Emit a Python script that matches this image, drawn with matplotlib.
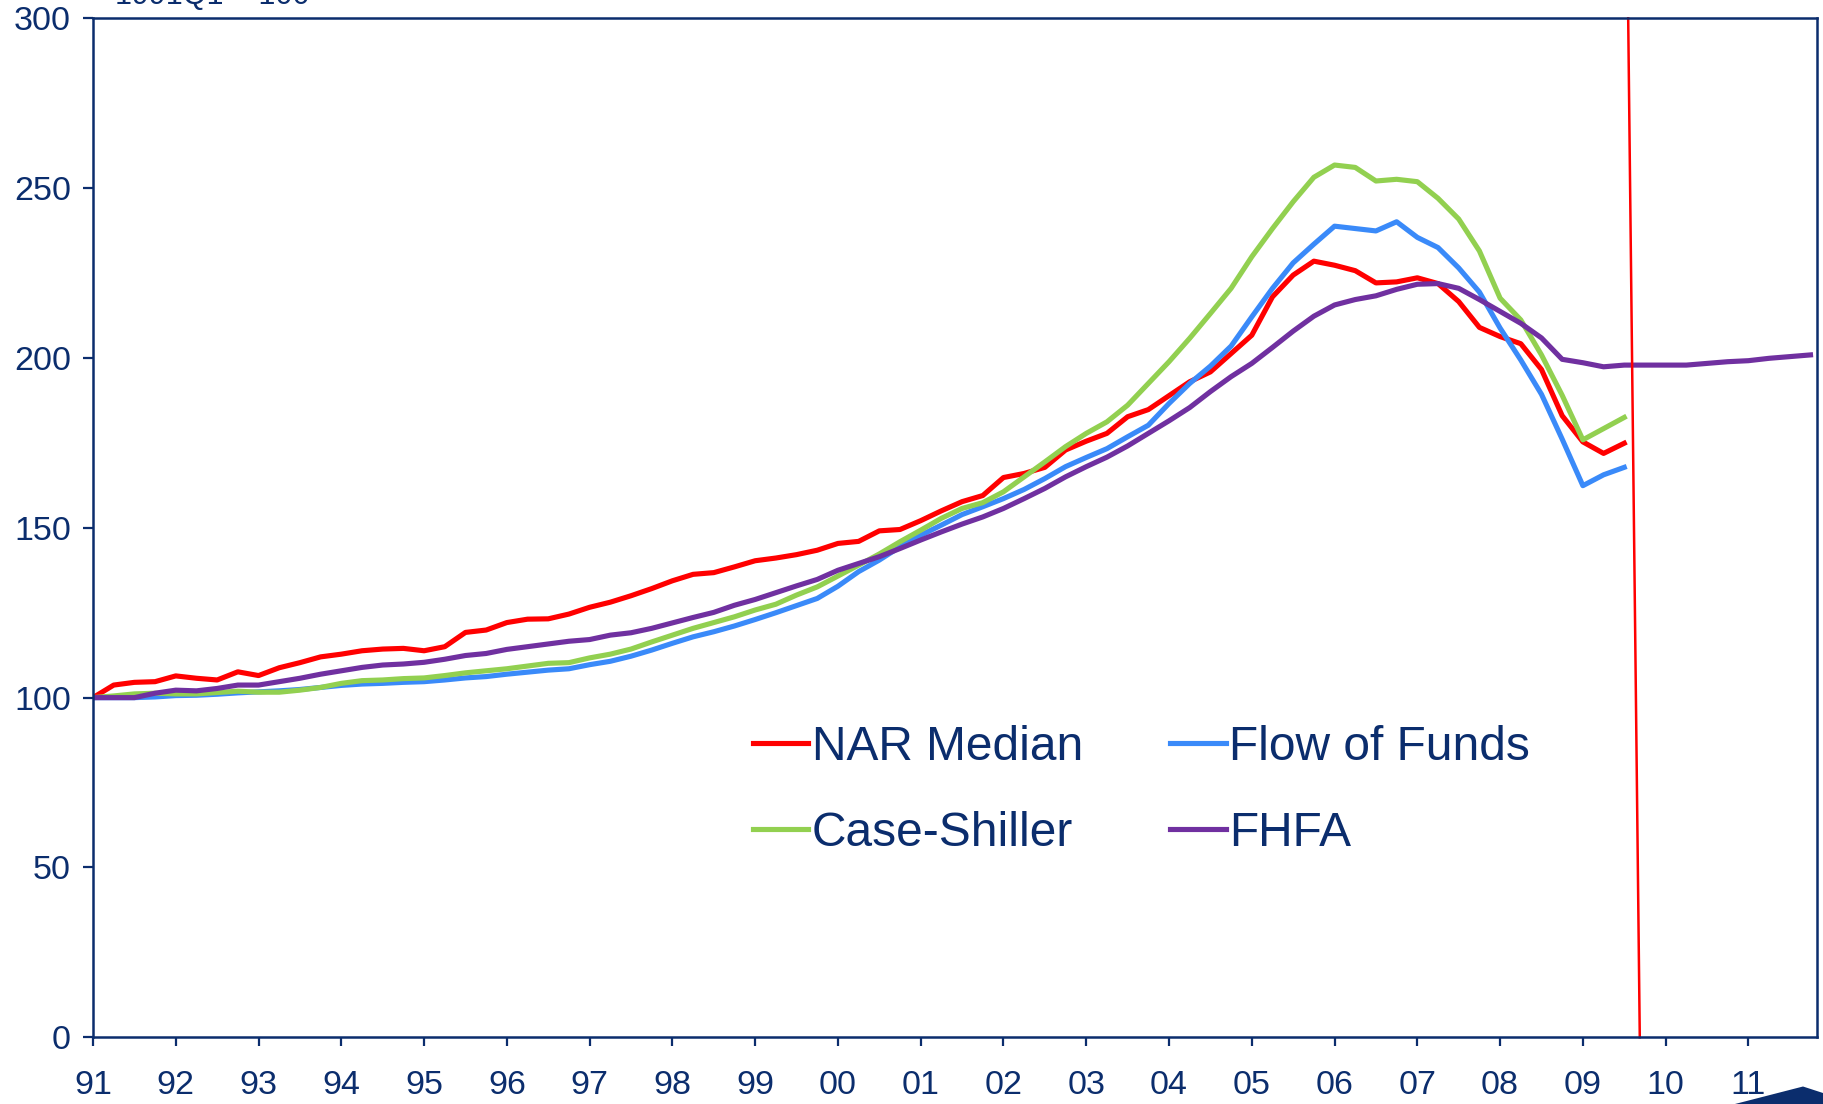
import numpy as np
import matplotlib
matplotlib.use("Agg")
import matplotlib.pyplot as plt
from matplotlib.patches import Polygon

plt.rcParams['font.family'] = ['Liberation Sans', 'DejaVu Sans']

NAVY = '#0B2D6D'

# quarterly index values, 1991Q1 = 100
nar_median = [100.0, 103.7, 104.5, 104.7, 106.4, 105.7, 105.2, 107.6, 106.5, 108.8,
              110.3, 112.0, 112.8, 113.8, 114.3, 114.5, 113.8, 115.0, 119.2, 119.9,
              122.1, 123.1, 123.2, 124.6, 126.6, 128.1, 130.0, 132.1, 134.4, 136.3,
              136.8, 138.5, 140.3, 141.1, 142.1, 143.4, 145.4, 146.0, 149.1, 149.5,
              152.1, 155.0, 157.7, 159.5, 164.8, 166.0, 167.8, 172.9, 175.5, 177.8,
              182.7, 184.8, 188.9, 193.0, 195.9, 201.3, 206.7, 218.0, 224.4, 228.5,
              227.3, 225.7, 222.1, 222.4, 223.6, 221.9, 216.6, 209.0, 206.3, 204.2,
              196.6, 183.0, 175.3, 171.9, 174.9]
flow_of_funds = [100.0, 100.0, 100.0, 100.2, 100.6, 100.7, 101.0, 101.4, 101.7, 102.0,
                 102.4, 103.0, 103.6, 104.0, 104.2, 104.5, 104.7, 105.2, 105.8, 106.2,
                 106.9, 107.5, 108.1, 108.5, 109.7, 110.7, 112.2, 114.0, 116.0, 117.9,
                 119.4, 121.1, 123.0, 125.0, 127.1, 129.2, 132.8, 137.1, 140.5, 144.4,
                 147.8, 150.8, 153.9, 156.2, 158.6, 161.3, 164.5, 168.0, 170.7, 173.3,
                 176.8, 180.2, 186.6, 192.5, 197.6, 203.5, 212.1, 220.5, 228.0, 233.5,
                 238.8, 238.1, 237.4, 240.1, 235.5, 232.5, 226.5, 219.4, 208.8, 199.4,
                 189.3, 176.1, 162.4, 165.6, 167.8]
case_shiller = [100.0, 100.5, 101.1, 101.3, 101.1, 101.1, 101.5, 101.9, 101.6, 101.6,
                102.2, 103.0, 104.2, 105.0, 105.2, 105.6, 105.8, 106.5, 107.3, 107.9,
                108.5, 109.3, 110.1, 110.3, 111.7, 112.8, 114.3, 116.4, 118.4, 120.4,
                122.1, 123.8, 125.8, 127.5, 130.2, 132.6, 135.8, 139.0, 142.3, 145.9,
                149.3, 152.8, 155.7, 157.4, 160.6, 165.0, 169.4, 173.9, 177.8, 181.2,
                186.1, 192.5, 198.9, 205.8, 213.1, 220.5, 229.8, 238.1, 246.0, 253.2,
                256.8, 256.1, 252.1, 252.6, 251.9, 247.0, 240.9, 231.5, 217.6, 211.2,
                200.9, 189.0, 175.9, 179.2, 182.5]
fhfa = [100.0, 100.0, 100.0, 101.3, 102.2, 102.0, 102.7, 103.7, 103.7, 104.7,
        105.7, 106.9, 107.9, 108.9, 109.6, 109.9, 110.4, 111.3, 112.4, 113.0,
        114.2, 115.0, 115.8, 116.6, 117.1, 118.4, 119.1, 120.4, 122.0, 123.6,
        125.1, 127.2, 128.9, 130.9, 132.9, 134.8, 137.5, 139.5, 141.5, 143.9,
        146.4, 148.8, 151.1, 153.2, 155.7, 158.6, 161.6, 165.0, 168.0, 170.8,
        174.1, 177.8, 181.5, 185.4, 190.1, 194.5, 198.4, 203.1, 207.9, 212.3,
        215.6, 217.2, 218.3, 220.2, 221.7, 221.9, 220.5, 217.2, 213.7, 210.2,
        205.9, 199.6, 198.6, 197.4, 197.9, 197.9, 197.9, 197.9, 198.4, 198.9,
        199.2, 199.9, 200.4, 200.9]

year_labels = ['91', '92', '93', '94', '95', '96', '97', '98', '99', '00', '01',
               '02', '03', '04', '05', '06', '07', '08', '09', '10', '11']
y_ticks = [0, 50, 100, 150, 200, 250, 300]

# hand-drawn marker line (quarter index at top / bottom)
marker_x = [74.19, 74.75]
marker_y = [300, 0]

fig = plt.figure(figsize=(18.23, 11.04), dpi=100)
ax = fig.add_axes([93 / 1823, 1 - 1037.3 / 1104, (1816.7 - 93) / 1823, (1037.3 - 18.3) / 1104])

lw = 3.7
l_nar, = ax.plot(np.arange(len(nar_median)), nar_median, color='#FF0000', lw=lw, label='NAR Median')
l_fof, = ax.plot(np.arange(len(flow_of_funds)), flow_of_funds, color='#3A8AF9', lw=lw, label='Flow of Funds')
l_cs, = ax.plot(np.arange(len(case_shiller)), case_shiller, color='#92D050', lw=lw, label='Case-Shiller')
l_fh, = ax.plot(np.arange(len(fhfa)), fhfa, color='#7030A0', lw=lw, label='FHFA')

ax.plot(marker_x, marker_y, color='#FF0000', lw=1.8, clip_on=False)

ax.set_xlim(0, 83.3)
ax.set_ylim(0, 300)
ax.set_xticks(np.arange(len(year_labels)) * 4)
ax.set_xticklabels(year_labels)
ax.set_yticks(y_ticks)
ax.set_yticklabels([str(v) for v in y_ticks])

for s in ax.spines.values():
    s.set_color(NAVY)
    s.set_linewidth(1.8)
ax.tick_params(axis='both', colors=NAVY, labelsize=24.5, width=1.6, direction='out')
ax.tick_params(axis='x', length=6.5, pad=17)
ax.tick_params(axis='y', length=7, pad=9)

leg = ax.legend(handles=[l_nar, l_cs, l_fof, l_fh], ncol=2, frameon=False,
                loc='upper left', bbox_to_anchor=(753 / 1823, 1 - 725 / 1104),
                bbox_transform=fig.transFigure, fontsize=34.5,
                handlelength=1.15, handletextpad=0.08, columnspacing=1.82,
                labelspacing=0.86, borderpad=0, borderaxespad=0)
for t in leg.get_texts():
    t.set_color(NAVY)

fig.text(115 / 1823, 1 - 4 / 1104, '1991Q1 = 100', fontsize=22, color=NAVY,
         ha='left', va='baseline')

# corner decoration of the slide
W, H = 1823, 1104
corner = Polygon([(1735 / W, 0), (1803 / W, 1 - 1086.5 / H), (1, 1 - 1093 / H), (1, 0)],
                 closed=True, transform=fig.transFigure, color=NAVY, lw=0)
fig.patches.append(corner)

fig.savefig('out.png', dpi=100)
